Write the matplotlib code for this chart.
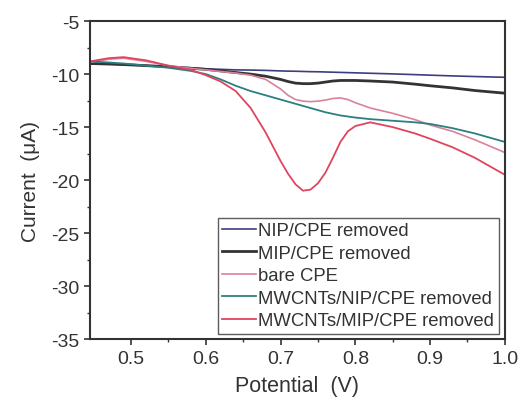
import matplotlib.pyplot as plt

plt.rcParams['font.family'] = ['Liberation Sans', 'DejaVu Sans']
plt.rcParams['axes.unicode_minus'] = False

# potential (V), shared grid
potential = [0.445, 0.47, 0.49, 0.52, 0.55, 0.58, 0.60, 0.62, 0.64, 0.66,
             0.68, 0.70, 0.71, 0.72, 0.73, 0.74, 0.75, 0.76, 0.77, 0.78,
             0.79, 0.80, 0.82, 0.85, 0.88, 0.90, 0.93, 0.96, 1.00]

nip_cpe = [-9.0, -9.05, -9.1, -9.2, -9.3, -9.4, -9.5, -9.55, -9.6, -9.62,
           -9.65, -9.7, -9.72, -9.73, -9.75, -9.77, -9.78, -9.8, -9.82, -9.84,
           -9.86, -9.88, -9.92, -9.98, -10.05, -10.1, -10.17, -10.23, -10.3]

mip_cpe = [-9.0, -9.05, -9.1, -9.2, -9.3, -9.45, -9.55, -9.7, -9.85, -10.0,
           -10.2, -10.5, -10.7, -10.85, -10.9, -10.9, -10.85, -10.75, -10.65, -10.6,
           -10.6, -10.6, -10.65, -10.75, -10.95, -11.1, -11.3, -11.55, -11.8]

bare_cpe = [-8.9, -8.6, -8.5, -8.8, -9.2, -9.45, -9.6, -9.75, -9.9, -10.1,
            -10.5, -11.4, -12.0, -12.4, -12.55, -12.6, -12.55, -12.45, -12.3, -12.25,
            -12.4, -12.7, -13.2, -13.7, -14.3, -14.8, -15.4, -16.2, -17.4]

mw_nip = [-8.8, -8.9, -9.0, -9.2, -9.4, -9.7, -10.0, -10.5, -11.1, -11.6,
          -12.0, -12.4, -12.6, -12.8, -13.0, -13.2, -13.4, -13.6, -13.75, -13.9,
          -14.0, -14.1, -14.25, -14.4, -14.55, -14.7, -15.1, -15.6, -16.4]

mw_mip = [-8.8, -8.5, -8.4, -8.7, -9.2, -9.6, -10.1, -10.7, -11.6, -13.2,
          -15.5, -18.2, -19.4, -20.4, -21.0, -20.9, -20.3, -19.3, -17.9, -16.4,
          -15.4, -14.9, -14.55, -15.0, -15.6, -16.1, -16.9, -17.9, -19.5]

fig = plt.figure(figsize=(5.32, 4.02), dpi=100)
ax = fig.add_axes([0.169, 0.154, 0.78, 0.791])

ax.plot(potential, nip_cpe, color='#3d3d80', lw=1.2, label='NIP/CPE removed')
ax.plot(potential, mip_cpe, color='#333333', lw=2.0, label='MIP/CPE removed')
ax.plot(potential, bare_cpe, color='#d9829a', lw=1.2, label='bare CPE')
ax.plot(potential, mw_nip, color='#2a8080', lw=1.3, label='MWCNTs/NIP/CPE removed')
ax.plot(potential, mw_mip, color='#e0445e', lw=1.3, label='MWCNTs/MIP/CPE removed')

ax.set_xlim(0.445, 1.0)
ax.set_ylim(-35, -5)
ax.set_xticks([0.5, 0.6, 0.7, 0.8, 0.9, 1.0])
ax.set_xticklabels(['0.5', '0.6', '0.7', '0.8', '0.9', '1.0'])
ax.set_yticks([-35, -30, -25, -20, -15, -10, -5])
ax.set_xticks([0.55, 0.65, 0.75, 0.85, 0.95], minor=True)
ax.set_yticks([-32.5, -27.5, -22.5, -17.5, -12.5, -7.5], minor=True)
ax.tick_params(which='major', direction='out', length=4, width=1.2,
               labelsize=14, colors='#333333')
ax.tick_params(which='minor', direction='out', length=2.5, width=1.0, colors='#333333')
for s in ax.spines.values():
    s.set_linewidth(1.5)
    s.set_color('#333333')

ax.set_xlabel('Potential  (V)', fontsize=15.5, color='#333333', labelpad=6)
ax.set_ylabel('Current  (\u03bcA)', fontsize=15, color='#333333', labelpad=8)

leg = ax.legend(loc='lower right', bbox_to_anchor=(0.99, 0.01), fontsize=13.3,
                fancybox=False, edgecolor='#333333', handlelength=1.8,
                handletextpad=0.15, labelspacing=0.3, borderpad=0.25,
                borderaxespad=0.1)
leg.get_frame().set_linewidth(1.0)
for t in leg.get_texts():
    t.set_color('#333333')

fig.savefig('out.png', dpi=100)
